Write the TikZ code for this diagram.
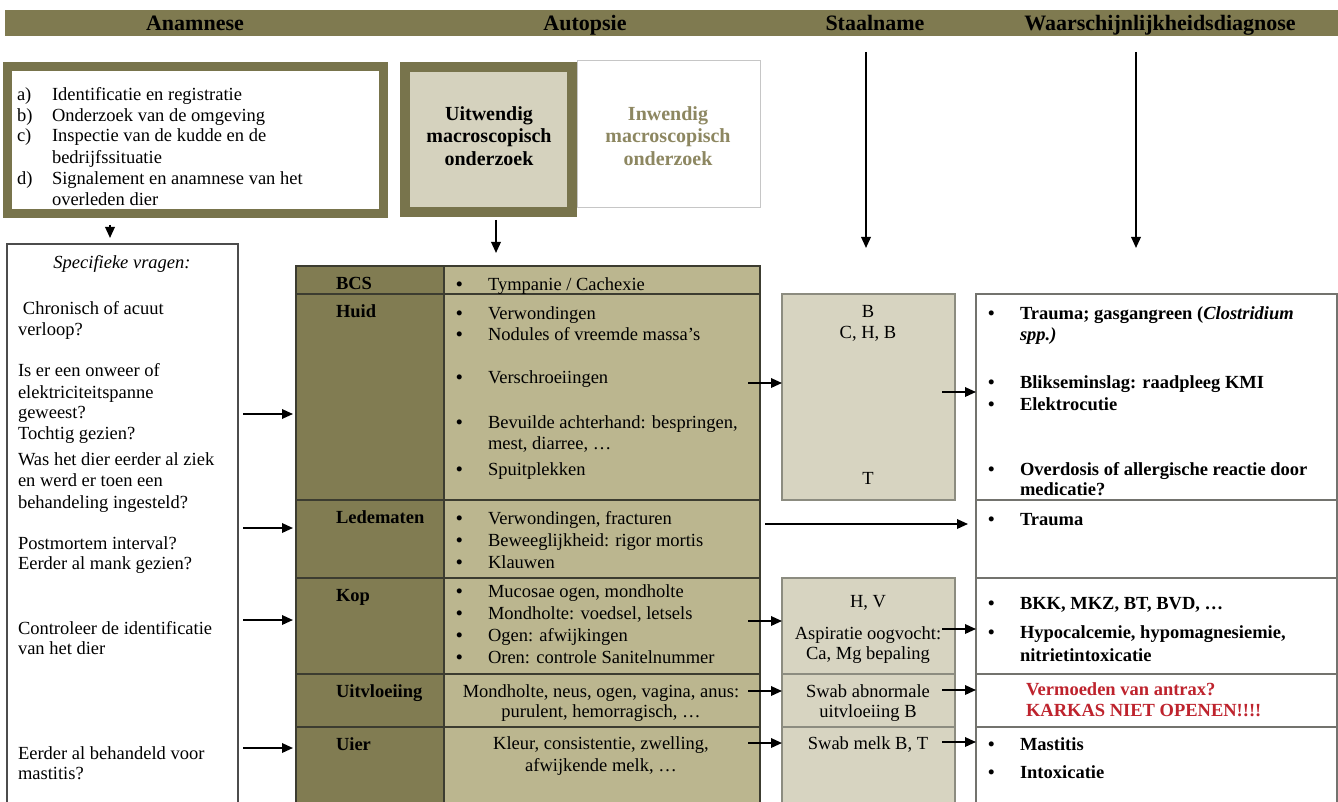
\documentclass[tikz,border=0pt]{standalone}
\usepackage{fontspec}
\setmainfont{Liberation Serif}
\usetikzlibrary{arrows.meta}
\definecolor{olive}{RGB}{127,122,80}
\definecolor{oliveframe}{RGB}{120,116,76}
\definecolor{catfill}{RGB}{129,124,82}
\definecolor{contfill}{RGB}{187,182,143}
\definecolor{staalfill}{RGB}{215,212,193}
\definecolor{uitfill}{RGB}{213,210,190}
\definecolor{inwtext}{RGB}{141,135,97}
\definecolor{redtext}{RGB}{190,35,45}
\definecolor{tline}{RGB}{60,60,48}
\definecolor{sline}{RGB}{140,140,128}
\definecolor{dline}{RGB}{115,115,110}
\begin{document}
\begin{tikzpicture}[x=1pt,y=-1pt,
  tx/.style={inner sep=0pt, outer sep=0pt, font=\fontsize{18.5}{21}\selectfont, anchor=mid west, yshift=-4pt},
  txb/.style={tx, font=\fontsize{18.5}{21}\selectfont\bfseries},
  txc/.style={tx, anchor=mid},
  bul/.style={tx, font=\fontsize{18.5}{21}\selectfont\bfseries},
  hdr/.style={inner sep=0pt, font=\fontsize{22}{26}\selectfont\bfseries, anchor=base},
  box/.style={draw, inner sep=0pt, outer sep=0pt, anchor=north west},
  catcell/.style={box, fill=catfill, draw=tline, line width=1.4pt, minimum width=148},
  concell/.style={box, fill=contfill, draw=tline, line width=1.4pt, minimum width=316},
  staalcell/.style={box, fill=staalfill, draw=sline, line width=1.4pt, minimum width=173},
  diagcell/.style={box, fill=white, draw=dline, line width=1.4pt, minimum width=361},
  arr/.style={draw, line width=1.8pt, -{Triangle[length=11pt,width=9.5pt]}},
  bigtx/.style={inner sep=0pt, font=\fontsize{20}{22.5}\selectfont\bfseries, align=center, anchor=center}
]
\useasboundingbox (0,0) rectangle (1338,802);
\fill[white] (0,0) rectangle (1338,802);

% header bar
\node[box, fill=olive, draw=none, minimum width=1333, minimum height=26] (bar) at (5,10) {};
\node[hdr] (hA) at (195,31) {Anamnese};
\node[hdr] (hB) at (585,31) {Autopsie};
\node[hdr] (hC) at (875,31) {Staalname};
\node[hdr] (hD) at (1160,31) {Waarschijnlijkheidsdiagnose};

% anamnese box
\node[box, draw=oliveframe, line width=9pt, fill=white, minimum width=376, minimum height=147] (anabox) at (7.5,66.5) {};
\node[tx] (la) at (17,94) {a)};   \node[tx] (ta) at (52,94) {Identificatie en registratie};
\node[tx] (lb) at (17,115) {b)};  \node[tx] (tb) at (52,115) {Onderzoek van de omgeving};
\node[tx] (lc) at (17,135) {c)};  \node[tx] (tc) at (52,135) {Inspectie van de kudde en de};
\node[tx] (tc2) at (52,157) {bedrijfssituatie};
\node[tx] (ld) at (17,178) {d)};  \node[tx] (td) at (52,178) {Signalement en anamnese van het};
\node[tx] (td2) at (52,199) {overleden dier};

% autopsie boxes
\node[box, draw=gray!45, line width=1pt, fill=white, minimum width=183, minimum height=147] (inw) at (577,61) {};
\node[box, draw=oliveframe, line width=10pt, fill=uitfill, minimum width=167, minimum height=145] (uitw) at (405,67) {};
\node[bigtx] (uitwT) at (489,136) {Uitwendig\\macroscopisch\\onderzoek};
\node[bigtx, text=inwtext] (inwT) at (668,136) {Inwendig\\macroscopisch\\onderzoek};

% specifieke vragen column
\node[box, draw=gray!60!black, line width=1.2pt, fill=white, minimum width=231, minimum height=570] (vragen) at (7,244) {};
\node[txc, font=\fontsize{18.5}{21}\selectfont\itshape] (q0) at (122,262) {Specifieke vragen:};
\node[tx] (q1) at (23,308) {Chronisch of acuut};
\node[tx] (q2) at (18,329) {verloop?};
\node[tx] (q3) at (18,370) {Is er een onweer of};
\node[tx] (q4) at (18,392) {elektriciteitspanne};
\node[tx] (q5) at (18,412) {geweest?};
\node[tx] (q6) at (18,433) {Tochtig gezien?};
\node[tx] (q7) at (18,459) {Was het dier eerder al ziek};
\node[tx] (q8) at (18,480) {en werd er toen een};
\node[tx] (q9) at (18,502) {behandeling ingesteld?};
\node[tx] (q10) at (18,543) {Postmortem interval?};
\node[tx] (q11) at (18,563) {Eerder al mank gezien?};
\node[tx] (q12) at (18,628) {Controleer de identificatie};
\node[tx] (q13) at (18,648) {van het dier};
\node[tx] (q14) at (18,753) {Eerder al behandeld voor};
\node[tx] (q15) at (18,773) {mastitis?};

% table: category column
\node[catcell, minimum height=28] (cBCS) at (296,266) {};
\node[catcell, minimum height=206] (cHuid) at (296,294) {};
\node[catcell, minimum height=78] (cLed) at (296,500) {};
\node[catcell, minimum height=96] (cKop) at (296,578) {};
\node[catcell, minimum height=53] (cUit) at (296,674) {};
\node[catcell, minimum height=90] (cUier) at (296,727) {};
% table: content column
\node[concell, minimum height=28] (tBCS) at (444,266) {};
\node[concell, minimum height=206] (tHuid) at (444,294) {};
\node[concell, minimum height=78] (tLed) at (444,500) {};
\node[concell, minimum height=96] (tKop) at (444,578) {};
\node[concell, minimum height=53] (tUit) at (444,674) {};
\node[concell, minimum height=90] (tUier) at (444,727) {};

\node[txb] (kBCS) at (336,283) {BCS};
\node[txb] (kHuid) at (336,311) {Huid};
\node[txb] (kLed) at (336,517) {Ledematen};
\node[txb] (kKop) at (336,595) {Kop};
\node[txb] (kUit) at (336,691) {Uitvloeiing};
\node[txb] (kUier) at (336,744) {Uier};

% content texts
\node[bul] (b1) at (456,284) {•}; \node[tx] (x1) at (488,284) {Tympanie / Cachexie};
\node[bul] (b2) at (456,313) {•}; \node[tx] (x2) at (488,313) {Verwondingen};
\node[bul] (b3) at (456,334) {•}; \node[tx] (x3) at (488,334) {Nodules of vreemde massa’s};
\node[bul] (b4) at (456,377) {•}; \node[tx] (x4) at (488,377) {Verschroeiingen};
\node[bul] (b5) at (456,422) {•}; \node[tx] (x5) at (488,422) {Bevuilde achterhand: bespringen,};
\node[tx] (x5b) at (488,443) {mest, diarree, …};
\node[bul] (b6) at (456,469) {•}; \node[tx] (x6) at (488,469) {Spuitplekken};
\node[bul] (b7) at (456,518) {•}; \node[tx] (x7) at (488,518) {Verwondingen, fracturen};
\node[bul] (b8) at (456,540) {•}; \node[tx] (x8) at (488,540) {Beweeglijkheid: rigor mortis};
\node[bul] (b9) at (456,562) {•}; \node[tx] (x9) at (488,562) {Klauwen};
\node[bul] (b10) at (456,591) {•}; \node[tx] (x10) at (488,591) {Mucosae ogen, mondholte};
\node[bul] (b11) at (456,613) {•}; \node[tx] (x11) at (488,613) {Mondholte: voedsel, letsels};
\node[bul] (b12) at (456,635) {•}; \node[tx] (x12) at (488,635) {Ogen: afwijkingen};
\node[bul] (b13) at (456,657) {•}; \node[tx] (x13) at (488,657) {Oren: controle Sanitelnummer};
\node[txc] (x14) at (601,691) {Mondholte, neus, ogen, vagina, anus:};
\node[txc] (x15) at (601,711) {purulent, hemorragisch, …};
\node[txc] (x16) at (601,743) {Kleur, consistentie, zwelling,};
\node[txc] (x17) at (601,765) {afwijkende melk, …};

% staalname boxes
\node[staalcell, minimum height=206] (sHuid) at (782,294) {};
\node[staalcell, minimum height=96] (sKop) at (782,578) {};
\node[staalcell, minimum height=53] (sUit) at (782,674) {};
\node[staalcell, minimum height=90] (sUier) at (782,727) {};
\node[txc] (s1) at (868,311) {B};
\node[txc] (s2) at (868,332) {C, H, B};
\node[txc] (s3) at (868,478) {T};
\node[txc] (s4) at (868,601) {H, V};
\node[txc] (s5) at (868,633) {Aspiratie oogvocht:};
\node[txc] (s6) at (868,653) {Ca, Mg bepaling};
\node[txc] (s7) at (868,691) {Swab abnormale};
\node[txc] (s8) at (868,711) {uitvloeiing B};
\node[txc] (s9) at (868,743) {Swab melk B, T};

% diagnose boxes
\node[diagcell, minimum height=206] (dHuid) at (976,294) {};
\node[diagcell, minimum height=78] (dLed) at (976,500) {};
\node[diagcell, minimum height=96] (dKop) at (976,578) {};
\node[diagcell, minimum height=53] (dUit) at (976,674) {};
\node[diagcell, minimum height=90] (dUier) at (976,727) {};
\node[bul] (e1b) at (988,313) {•}; \node[txb] (e1) at (1020,313) {Trauma; gasgangreen (\textit{Clostridium}};
\node[txb] (e1c) at (1020,334) {\textit{spp.)}};
\node[bul] (e2b) at (988,382) {•}; \node[txb] (e2) at (1020,382) {Blikseminslag: raadpleeg KMI};
\node[bul] (e3b) at (988,404) {•}; \node[txb] (e3) at (1020,404) {Elektrocutie};
\node[bul] (e4b) at (988,469) {•}; \node[txb] (e4) at (1020,469) {Overdosis of allergische reactie door};
\node[txb] (e4c) at (1020,489) {medicatie?};
\node[bul] (e5b) at (988,519) {•}; \node[txb] (e5) at (1020,519) {Trauma};
\node[bul] (e6b) at (988,603) {•}; \node[txb] (e6) at (1020,603) {BKK, MKZ, BT, BVD, …};
\node[bul] (e7b) at (988,632) {•}; \node[txb] (e7) at (1020,632) {Hypocalcemie, hypomagnesiemie,};
\node[txb] (e7c) at (1020,655) {nitrietintoxicatie};
\node[txb, text=redtext] (e8) at (1026,689) {Vermoeden van antrax?};
\node[txb, text=redtext] (e8c) at (1026,710) {KARKAS NIET OPENEN!!!!};
\node[bul] (e9b) at (988,744) {•}; \node[txb] (e9) at (1020,744) {Mastitis};
\node[bul] (e10b) at (988,772) {•}; \node[txb] (e10) at (1020,772) {Intoxicatie};

% vertical arrows
\draw[arr, shorten <=11.5pt, shorten >=6pt] (anabox.south -| 110,0) -- (vragen.north -| 110,0);
\draw[arr, shorten <=8pt, shorten >=13pt] (uitw.south -| 496,0) -- (tBCS.north -| 496,0);
\draw[arr, shorten <=16pt, shorten >=46pt] (bar.south -| 866,0) -- (sHuid.north -| 866,0);
\draw[arr, shorten <=16pt, shorten >=46pt] (bar.south -| 1136,0) -- (dHuid.north -| 1136,0);

% vragen -> table
\draw[arr, shorten <=5pt, shorten >=3pt] (vragen.east |- 0,414) -- (cHuid.west |- 0,414);
\draw[arr, shorten <=5pt, shorten >=3pt] (vragen.east |- 0,528) -- (cLed.west |- 0,528);
\draw[arr, shorten <=5pt, shorten >=3pt] (vragen.east |- 0,620) -- (cKop.west |- 0,620);
\draw[arr, shorten <=5pt, shorten >=3pt] (vragen.east |- 0,748) -- (cUier.west |- 0,748);

% table -> staalname
\coordinate (aH) at (748,383);
\coordinate (aK) at (748,621);
\coordinate (aU) at (748,691);
\coordinate (aI) at (748,743);
\coordinate (aL) at (765,524);
\draw[arr] (aH) -- (sHuid.west |- aH);
\draw[arr] (aK) -- (sKop.west |- aK);
\draw[arr] (aU) -- (sUit.west |- aU);
\draw[arr] (aI) -- (sUier.west |- aI);
\draw[arr, shorten >=8pt] (aL) -- (dLed.west |- aL);

% staalname -> diagnose
\coordinate (bH) at (942,392);
\coordinate (bK) at (942,629);
\coordinate (bU) at (942,690);
\coordinate (bI) at (942,742);
\draw[arr] (bH) -- (dHuid.west |- bH);
\draw[arr] (bK) -- (dKop.west |- bK);
\draw[arr] (bU) -- (dUit.west |- bU);
\draw[arr] (bI) -- (dUier.west |- bI);
\end{tikzpicture}
\end{document}
